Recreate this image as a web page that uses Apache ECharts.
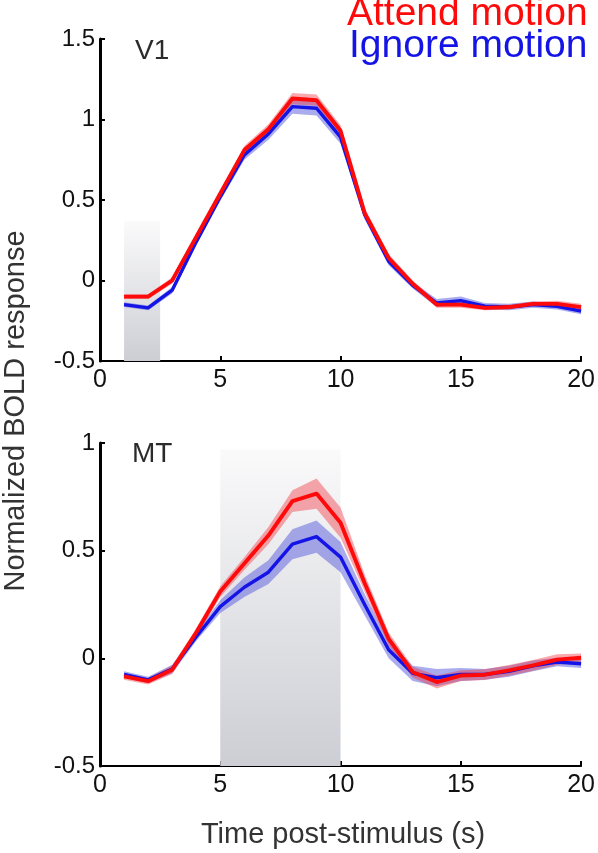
<!DOCTYPE html>
<html><head><meta charset="utf-8">
<script src="https://cdn.jsdelivr.net/npm/echarts@6/dist/echarts.min.js"></script>
<style>html,body{margin:0;padding:0;background:#fff}#c{width:598px;height:853px}</style>
</head><body><div id="c"></div><script>
// ---- data ----
const timeS = [1,2,3,4,5,6,7,8,9,10,11,12,13,14,15,16,17,18,19,20];
const v1Attend = [-0.10,-0.10,0.00,0.27,0.54,0.81,0.94,1.13,1.12,0.93,0.42,0.14,-0.02,-0.15,-0.15,-0.17,-0.165,-0.145,-0.145,-0.165];
const v1Ignore = [-0.15,-0.17,-0.06,0.24,0.52,0.78,0.91,1.08,1.07,0.89,0.41,0.12,-0.03,-0.14,-0.125,-0.16,-0.165,-0.15,-0.16,-0.19];
const v1AttendSem = [0.015,0.015,0.02,0.02,0.02,0.025,0.03,0.035,0.035,0.035,0.03,0.025,0.02,0.02,0.02,0.015,0.015,0.015,0.02,0.02];
const v1IgnoreSem = [0.015,0.015,0.02,0.02,0.025,0.03,0.035,0.045,0.045,0.04,0.03,0.025,0.02,0.025,0.025,0.02,0.02,0.02,0.02,0.02];
const mtAttend = [-0.084,-0.106,-0.053,0.12,0.31,0.44,0.57,0.73,0.765,0.63,0.35,0.09,-0.064,-0.11,-0.08,-0.076,-0.056,-0.033,-0.006,0.003];
const mtIgnore = [-0.075,-0.10,-0.05,0.10,0.24,0.33,0.40,0.53,0.565,0.47,0.25,0.04,-0.07,-0.09,-0.075,-0.075,-0.06,-0.035,-0.017,-0.025];
const mtAttendSem = [0.015,0.015,0.02,0.02,0.025,0.03,0.04,0.05,0.07,0.07,0.04,0.03,0.025,0.03,0.025,0.025,0.025,0.025,0.025,0.02];
const mtIgnoreSem = [0.015,0.015,0.02,0.02,0.03,0.045,0.055,0.07,0.075,0.07,0.05,0.04,0.035,0.04,0.03,0.025,0.025,0.025,0.02,0.02];
// stimulus shading: [xStart, xEnd, yTop]
const v1Shade = [1, 2.5, 0.37];
const mtShade = [5, 10, 0.97];
const xTicks = {min:0, max:20, interval:5};
const v1YTicks = {min:-0.5, max:1.5, interval:0.5};
const mtYTicks = {min:-0.5, max:1, interval:0.5};
const legendNames = ['Attend motion','Ignore motion'];
const panelNames = ['V1','MT'];
const xTitle = 'Time post-stimulus (s)';
const yTitle = 'Normalized BOLD response';

// ---- styles ----
const FONT = '"Liberation Sans", Arial, sans-serif';
const RED = '#ff0a0a', BLUE = '#1414e6';
const RED_BAND = 'rgba(240,50,60,0.42)';
const BLUE_BAND = 'rgba(85,90,220,0.5)';

const chart = echarts.init(document.getElementById('c'), null, {renderer:'canvas'});

function pairs(vals){ return timeS.map((t,i)=>[t, vals[i]]); }
function bandData(m, s){ return timeS.map((t,i)=>[t, m[i]-s[i], m[i]+s[i]]); }

function bandSeries(gi, m, s, color, z){
  return {
    type:'custom', xAxisIndex:gi, yAxisIndex:gi, silent:true, z:z, animation:false,
    data:bandData(m, s),
    encode:{x:0, y:[1,2]},
    renderItem:function(params, api){
      if (params.dataIndex !== 0) return null;
      const n = params.dataInsideLength;
      const up = [], lo = [];
      for (let j=0;j<n;j++){
        up.push(api.coord([api.value(0,j), api.value(2,j)]));
        lo.push(api.coord([api.value(0,j), api.value(1,j)]));
      }
      return {type:'polygon', shape:{points:up.concat(lo.reverse())}, style:{fill:color}, silent:true};
    }
  };
}

function shadeArea(sh, ymin){
  return {
    silent:true,
    itemStyle:{color:new echarts.graphic.LinearGradient(0,0,0,1,[
      {offset:0,color:'rgba(250,250,251,1)'},{offset:1,color:'rgba(205,206,212,1)'}])},
    data:[[{xAxis:sh[0], yAxis:sh[2]},{xAxis:sh[1], yAxis:ymin}]]
  };
}

function panelSeries(gi, att, attSem, ign, ignSem, shade, ymin){
  const base = {type:'line', xAxisIndex:gi, yAxisIndex:gi, symbol:'none', silent:true, animation:false};
  return [
    Object.assign({}, base, {data:pairs(ign), lineStyle:{opacity:0}, z:1, markArea:shadeArea(shade, ymin)}),
    bandSeries(gi, ign, ignSem, BLUE_BAND, 2),
    bandSeries(gi, att, attSem, RED_BAND, 3),
    Object.assign({}, base, {data:pairs(ign), lineStyle:{color:BLUE, width:3.4, join:'round'}, z:4}),
    Object.assign({}, base, {data:pairs(att), lineStyle:{color:RED, width:3.9, join:'round'}, z:5})
  ];
}

function xAx(gi){
  return {type:'value', gridIndex:gi, min:xTicks.min, max:xTicks.max, interval:xTicks.interval,
    axisLine:{show:true, onZero:false, lineStyle:{color:'#000', width:2}},
    axisTick:{show:true, inside:true, length:5, lineStyle:{color:'#000', width:2}},
    axisLabel:{color:'#111', fontSize:25, fontFamily:FONT, margin:7},
    splitLine:{show:false}};
}
function yAx(gi, t){
  return {type:'value', gridIndex:gi, min:t.min, max:t.max, interval:t.interval,
    axisLine:{show:true, onZero:false, lineStyle:{color:'#000', width:3}},
    axisTick:{show:true, inside:true, length:5, lineStyle:{color:'#000', width:2}},
    axisLabel:{color:'#111', fontSize:24, fontFamily:FONT, margin:5},
    splitLine:{show:false}};
}

function txt(x,y,text,size,fill){
  return {type:'text', x:x, y:y, silent:true, z:10,
    style:{text:text, fill:fill, font:size+'px '+FONT, align:'left', verticalAlign:'middle'}};
}

const option = {
  animation:false,
  backgroundColor:'#fff',
  grid:[
    {left:100, width:484, top:39, height:322},
    {left:100, width:484, top:443, height:323}
  ],
  xAxis:[xAx(0), xAx(1)],
  yAxis:[yAx(0, v1YTicks), yAx(1, mtYTicks)],
  series:[].concat(
    panelSeries(0, v1Attend, v1AttendSem, v1Ignore, v1IgnoreSem, v1Shade, v1YTicks.min),
    panelSeries(1, mtAttend, mtAttendSem, mtIgnore, mtIgnoreSem, mtShade, mtYTicks.min)
  ),
  graphic:[
    txt(347, 14, legendNames[0], 39, RED),
    txt(349, 46, legendNames[1], 39, BLUE),
    txt(135, 51, panelNames[0], 28, '#2b2b2b'),
    txt(132, 454, panelNames[1], 28, '#2b2b2b'),
    {type:'text', x:343, y:835, silent:true, z:10,
      style:{text:xTitle, fill:'#333', font:'29px '+FONT, align:'center', verticalAlign:'middle'}},
    {type:'text', x:16, y:411, rotation:Math.PI/2, silent:true, z:10,
      style:{text:yTitle, fill:'#333', font:'29px '+FONT, align:'center', verticalAlign:'middle'}}
  ]
};
chart.setOption(option);
</script></body></html>
